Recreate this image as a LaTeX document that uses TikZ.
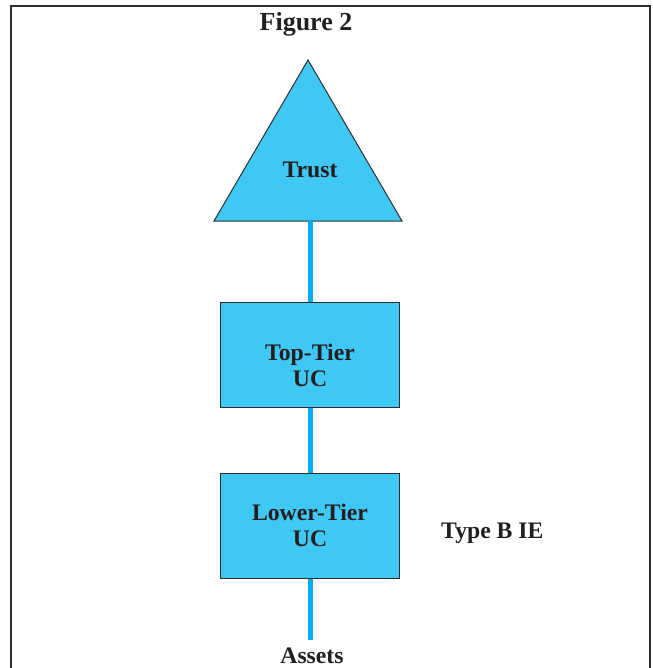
\documentclass[tikz,border=0pt]{standalone}
\usepackage{fontspec}
\setmainfont{Liberation Serif}
\usetikzlibrary{positioning}
\definecolor{boxfill}{HTML}{40C8F4}
\definecolor{linkblue}{HTML}{00AEEF}
\definecolor{edgegray}{HTML}{2E2E2E}
\definecolor{inkgray}{HTML}{231F20}

\begin{document}
\begin{tikzpicture}[x=1pt, y=-1pt,
    entity/.style={draw=edgegray, line width=1pt, fill=boxfill, minimum width=179pt,
      minimum height=105pt, inner sep=0pt},
    link/.style={draw=linkblue, line width=5pt},
    caption/.style={font=\fontsize{23.7}{26}\selectfont\bfseries, text=inkgray,
      align=center, inner sep=0pt}]
		\useasboundingbox (0, 0) rectangle (652, 668);
		% outer frame
		\draw[edgegray, line width=1.8pt] (11, 668) -- (11, 6) -- (650, 6) -- (650, 668);
		\node[caption, font=\fontsize{26}{30}\selectfont\bfseries] (title) at (306, 24) {Figure 2};
		% trust triangle
		\draw[draw=edgegray, line width=1pt, fill=boxfill] (308, 60) -- (402, 221) -- (214, 221) -- cycle;
		\coordinate (trustbase) at (310, 221);
		\node[caption] (trust) at (310, 170) {Trust};
		% tiers
		\node[entity] (top) at (310, 354.5) {};
		\node[caption] (toptext) at (310, 365) {Top-Tier\\UC};
		\node[entity] (lower) at (310, 525.5) {};
		\node[caption] (lowertext) at (310, 525.5) {Lower-Tier\\UC};
		\node[caption, anchor=west] (typeb) at (441, 533) {Type B IE};
		\coordinate (assetsend) at (310, 640);
		\node[caption] (assets) at (312, 656) {Assets};
		% links
		\draw[link] (trustbase) -- (top.north);
		\draw[link] (top.south) -- (lower.north);
		\draw[link] (lower.south) -- (assetsend);
	\end{tikzpicture}
\end{document}
